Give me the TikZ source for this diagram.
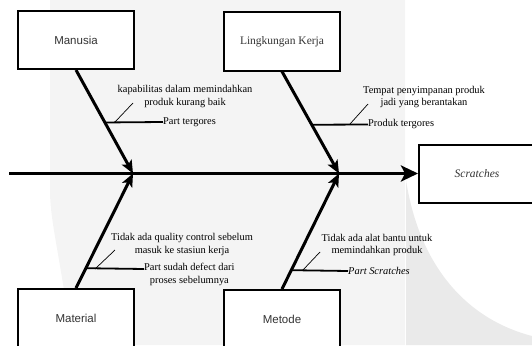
\documentclass[tikz,border=0pt]{standalone}
\usepackage{fontspec}
\setmainfont{Liberation Serif}
\newfontfamily\arialf{Liberation Sans}
\usetikzlibrary{arrows.meta,calc}
\definecolor{wmA}{HTML}{F4F4F4}
\definecolor{wmB}{HTML}{EAEAEA}
\definecolor{txt}{HTML}{333333}
\begin{document}
\begin{tikzpicture}[x=1pt,y=-1pt,
 box/.style={draw=black,line width=2pt,fill=white,minimum width=116pt,minimum height=58pt,inner sep=0pt,text=txt,font=\fontsize{11.5}{13}\selectfont},
 sansbox/.style={box,font=\arialf\fontsize{11.5}{13}\selectfont},
 bone/.style={line width=3pt,-{Stealth[length=13pt,width=11pt,inset=3pt]}},
 spine/.style={line width=3.4pt,-{Stealth[length=17pt,width=16pt,inset=4pt]}},
 twig/.style={line width=1.8pt},
 hair/.style={line width=0.7pt},
 lab/.style={font=\fontsize{10.4}{12.5}\selectfont,inner sep=0pt,align=center},
]
\useasboundingbox (0,0) rectangle (532,345);
% watermark
\fill[wmA] (50,0) -- (405,0) -- (405,345) -- (64,345) -- (64,290) .. controls (56,240) and (50,215) .. (50,190) -- cycle;
\fill[wmB] (406,180) .. controls (420,270) and (470,320) .. (532,336) -- (532,345) -- (406,345) -- cycle;

% boxes
\node[sansbox] (man) at (76,40) {Manusia};
\node[box] (lin) at (282,41.5) {Lingkungan Kerja};
\node[box] (scr) at (477,173.5) {\itshape Scratches};
\node[sansbox] (mat) at (76,318) {Material};
\node[sansbox] (met) at (282,319) {Metode};

% spine
\coordinate (tail) at (9,173.5);
\draw[spine] (tail) -- (scr.west);
\coordinate (j1) at (133,173.5);
\coordinate (j2) at (339,173.5);
\draw[bone] (man.south) -- (j1);
\draw[bone] (lin.south) -- (j2);
\draw[bone] (mat.north) -- (j1);
\draw[bone] (met.north) -- (j2);

% Manusia causes
\node[lab,anchor=west] (m1) at (163,122) {Part tergores};
\node[lab] (m2) at (185,96.5) {kapabilitas dalam memindahkan\\produk kurang baik};
\coordinate (mb) at ($(man.south)!0.507!(j1)$);
\draw[twig] (mb) -- (m1.west);
\coordinate (mh1) at (115,122);
\coordinate (mh2) at (133,103);
\draw[hair] (mh1) -- (mh2);

% Lingkungan causes
\node[lab,anchor=west] (l1) at (368,124.5) {Produk tergores};
\node[lab] (l2) at (424,97) {Tempat penyimpanan produk\\jadi yang berantakan};
\coordinate (lb) at ($(lin.south)!0.522!(j2)$);
\draw[twig] (lb) -- (l1.west);
\coordinate (lh1) at (350,124);
\coordinate (lh2) at (368,104);
\draw[hair] (lh1) -- (lh2);

% Material causes
\node[lab,anchor=west] (a1) at (144,274.5) {Part sudah defect dari\\proses sebelumnya};
\node[lab] (a2) at (182,244.5) {Tidak ada quality control sebelum\\masuk ke stasiun kerja};
\coordinate (ab) at ($(mat.north)!0.173!(j1)$);
\coordinate (ae) at (144,269);
\draw[twig] (ab) -- (ae);
\coordinate (ah1) at (95,269);
\coordinate (ah2) at (115,250);
\draw[hair] (ah1) -- (ah2);

% Metode causes
\node[lab,anchor=west] (e1) at (348,271) {\itshape Part Scratches};
\node[lab] (e2) at (377,245) {Tidak ada alat bantu untuk\\memindahkan produk};
\coordinate (eb) at ($(met.north)!0.163!(j2)$);
\draw[twig] (eb) -- (e1.west);
\coordinate (eh1) at (302,271);
\coordinate (eh2) at (320,252);
\draw[hair] (eh1) -- (eh2);
\end{tikzpicture}
\end{document}
